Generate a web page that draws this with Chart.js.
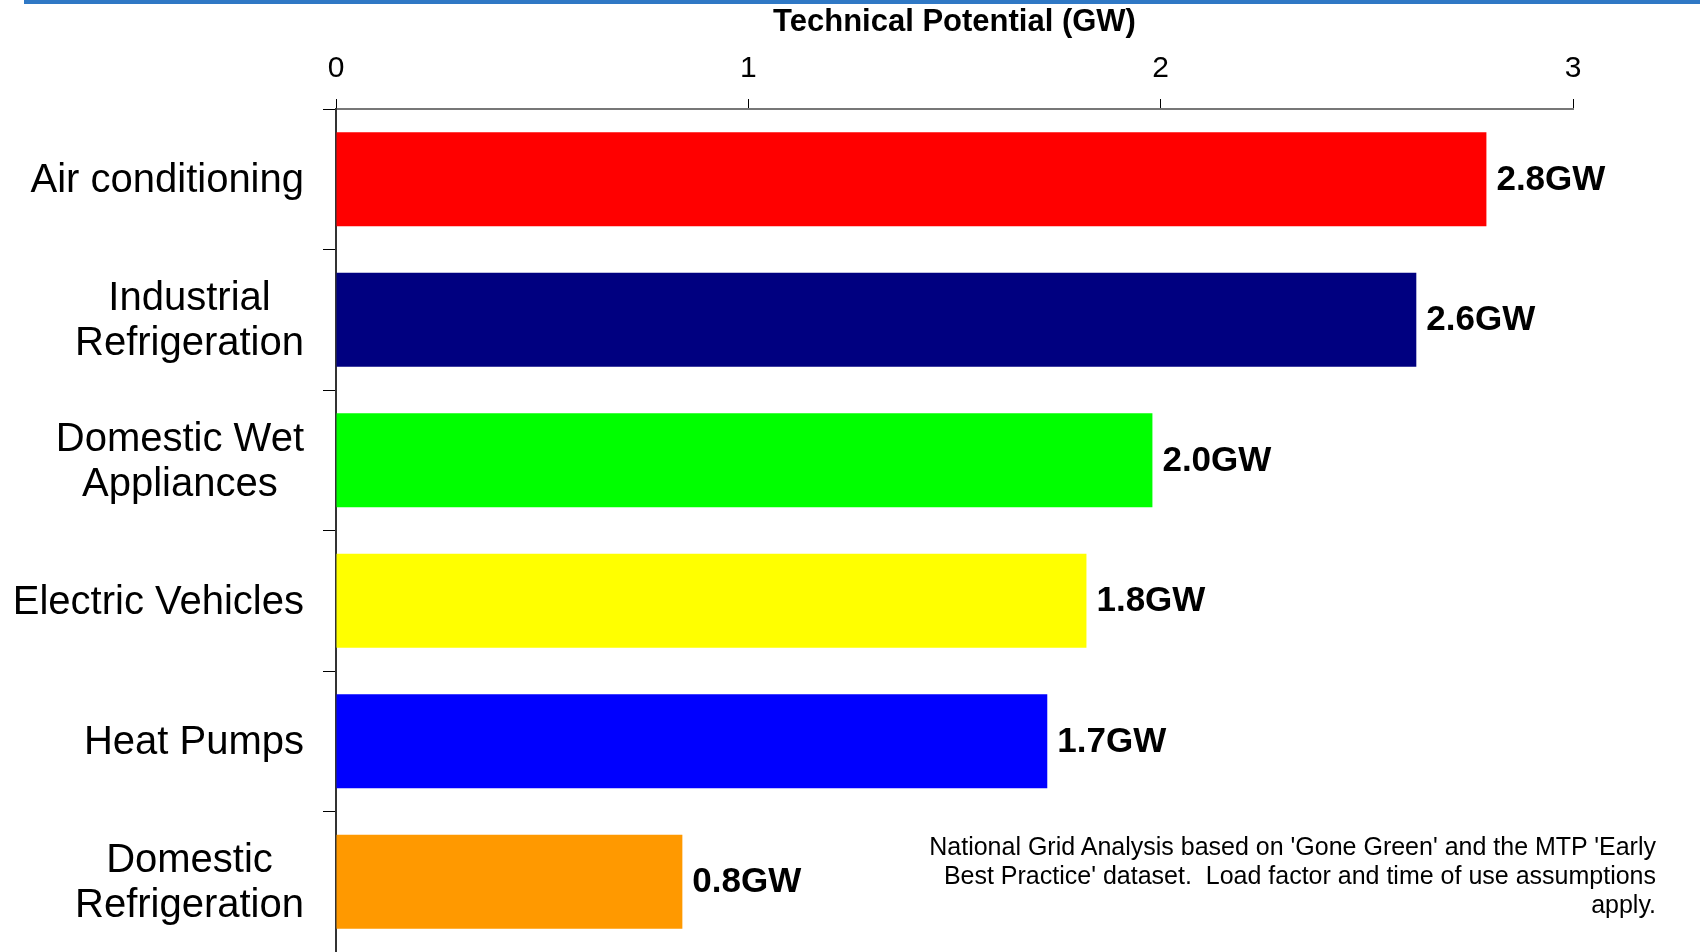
<!DOCTYPE html>
<html>
<head>
<meta charset="utf-8">
<script src="https://cdn.jsdelivr.net/npm/chart.js@4"></script>
<style>
  body { margin: 0; background: #fff; }
  #wrap { position: relative; width: 1700px; height: 952px; }
  #topLine { position: absolute; left: 24px; right: 0; top: 0; height: 4px; background: #2f78c5; }
  #note {
    position: absolute; right: 44px; top: 832px;
    font-family: "Liberation Sans Narrow", "Liberation Sans", Arial, sans-serif;
    font-size: 25px; line-height: 29px; text-align: right; color: #000;
  }
</style>
</head>
<body>
<div id="wrap">
  <canvas id="grafico"></canvas>
  <div id="topLine"></div>
  <div id="note">National Grid Analysis based on 'Gone Green' and the MTP 'Early<br>Best Practice' dataset.&nbsp; Load factor and time of use assumptions<br>apply.</div>
</div>
<script>
// categorias (linhas do rótulo)
const categories = [
    ['Air conditioning'],
    ['Industrial', 'Refrigeration'],
    ['Domestic Wet', 'Appliances'],
    ['Electric Vehicles'],
    ['Heat Pumps'],
    ['Domestic', 'Refrigeration']
];
// potencial técnico (GW)
const potential = [2.79, 2.62, 1.98, 1.82, 1.725, 0.84];
const valueLabels = ['2.8GW', '2.6GW', '2.0GW', '1.8GW', '1.7GW', '0.8GW'];
const xTicks = [0, 1, 2, 3];

const barColors = ['#FF0000', '#000080', '#00FF00', '#FFFF00', '#0000FF', '#FF9900'];

const narrow = '"Liberation Sans Narrow", "Liberation Sans", Arial, sans-serif';
const sans = '"Liberation Sans", Arial, sans-serif';

// rótulos das categorias: bloco alinhado à direita, linhas centralizadas
const categoryLabels = {
    id: 'categoryLabels',
    afterDraw(chart) {
        const ctx = chart.ctx;
        const y = chart.scales.y;
        const right = chart.chartArea.left - 32;
        const lh = 45;
        ctx.save();
        ctx.font = '40px ' + sans;
        ctx.fillStyle = '#000';
        ctx.textAlign = 'center';
        ctx.textBaseline = 'middle';
        categories.forEach((lines, i) => {
            const maxW = Math.max(...lines.map(l => ctx.measureText(l).width));
            const cx = right - maxW / 2;
            const cy = y.getPixelForValue(i) + 2;
            lines.forEach((l, k) => {
                ctx.fillText(l, cx, cy + (k - (lines.length - 1) / 2) * lh);
            });
        });
        ctx.restore();
    }
};

// valores ao fim das barras
const barValues = {
    id: 'barValues',
    afterDatasetsDraw(chart) {
        const ctx = chart.ctx;
        const meta = chart.getDatasetMeta(0);
        ctx.save();
        ctx.font = 'bold 35px ' + sans;
        ctx.fillStyle = '#000';
        ctx.textAlign = 'left';
        ctx.textBaseline = 'middle';
        meta.data.forEach((bar, i) => {
            ctx.fillText(valueLabels[i], bar.x + 10, bar.y + 1);
        });
        ctx.restore();
    }
};

let grafico = document.getElementById('grafico').getContext('2d');

let chart = new Chart(grafico, {
    type: 'bar',
    data: {
        labels: categories.map(c => c.join(' ')),
        datasets: [{
            data: potential,
            backgroundColor: barColors,
            borderWidth: 0,
            categoryPercentage: 1,
            barPercentage: 0.67
        }]
    },
    options: {
        indexAxis: 'y',
        responsive: true,
        maintainAspectRatio: false,
        animation: false,
        layout: { padding: { left: 0, right: 127, top: 0, bottom: 0 } },
        plugins: {
            legend: { display: false },
            tooltip: { enabled: false }
        },
        scales: {
            x: {
                position: 'top',
                min: 0,
                max: 3,
                afterFit: s => { s.height = 109; },
                afterBuildTicks: s => { s.ticks = xTicks.map(v => ({ value: v })); },
                grid: { drawOnChartArea: false, drawTicks: true, tickLength: 10, color: '#000', lineWidth: 1 },
                border: { display: true, color: '#777', width: 2 },
                ticks: {
                    font: { family: narrow, size: 30 },
                    color: '#000',
                    padding: 12
                },
                title: {
                    display: true,
                    text: 'Technical Potential (GW)',
                    font: { family: narrow, size: 31, weight: 'bold' },
                    color: '#000',
                    padding: { top: 4, bottom: 0 }
                }
            },
            y: {
                afterFit: s => { s.width = 336; },
                grid: { drawOnChartArea: false, drawTicks: true, tickLength: 13, color: '#000', lineWidth: 1, offset: true },
                border: { display: true, color: '#333', width: 2 },
                ticks: { display: false }
            }
        }
    },
    plugins: [categoryLabels, barValues]
});
</script>
</body>
</html>
